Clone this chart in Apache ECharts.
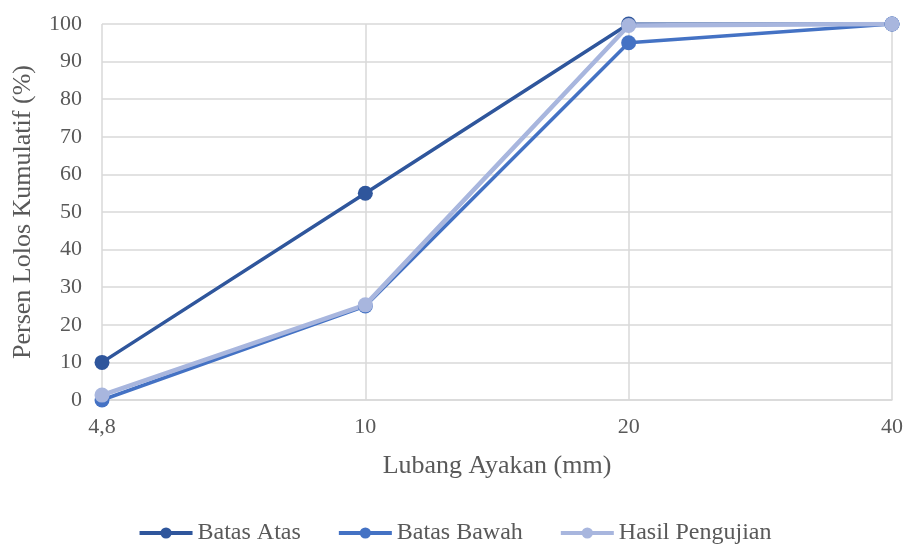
<!DOCTYPE html>
<html><head><meta charset="utf-8">
<script src="https://cdn.jsdelivr.net/npm/echarts@6/dist/echarts.min.js"></script>
<style>html,body{margin:0;padding:0;background:#fff}#c{width:909px;height:546px}</style>
</head><body><div id="c"></div>
<script>
const categories = ['4,8', '10', '20', '40'];
const batasAtas = [10, 55, 100, 100];
const batasBawah = [0, 25, 95, 100];
const hasilPengujian = [1.3, 25.3, 99.6, 100];
const yTicks = {min: 0, max: 100, interval: 10};

const font = 'Liberation Serif';
const chart = echarts.init(document.getElementById('c'));
chart.setOption({
  animation: false,
  grid: {left: 102, right: 17, top: 24, bottom: 146},
  legend: {
    top: 516, left: 'center', itemWidth: 53, itemHeight: 14, itemGap: 36,
    lineStyle: {width: 4},
    textStyle: {fontFamily: font, fontSize: 24, color: '#595959'},
    data: ['Batas Atas', 'Batas Bawah', 'Hasil Pengujian']
  },
  xAxis: {
    type: 'category', data: categories, boundaryGap: false,
    name: 'Lubang Ayakan (mm)', nameLocation: 'middle', nameGap: 53,
    nameTextStyle: {fontFamily: font, fontSize: 26, color: '#595959'},
    axisLine: {lineStyle: {color: '#d9d9d9', width: 1.5}},
    axisTick: {show: false},
    axisLabel: {fontFamily: font, fontSize: 22, color: '#595959', margin: 16},
    splitLine: {show: true, lineStyle: {color: '#d9d9d9', width: 1.5}}
  },
  yAxis: {
    type: 'value', min: yTicks.min, max: yTicks.max, interval: yTicks.interval,
    name: 'Persen Lolos Kumulatif (%)', nameLocation: 'middle', nameGap: 66,
    nameTextStyle: {fontFamily: font, fontSize: 26, color: '#595959'},
    axisLine: {show: false}, axisTick: {show: false},
    axisLabel: {fontFamily: font, fontSize: 22, color: '#595959', margin: 20},
    splitLine: {lineStyle: {color: '#d9d9d9', width: 1.5}}
  },
  series: [
    {name: 'Batas Atas', type: 'line', data: batasAtas, symbol: 'circle', symbolSize: 15,
     lineStyle: {width: 3.5, color: '#2F569C'}, itemStyle: {color: '#2F569C'}},
    {name: 'Batas Bawah', type: 'line', data: batasBawah, symbol: 'circle', symbolSize: 15,
     lineStyle: {width: 3.5, color: '#4472C4'}, itemStyle: {color: '#4472C4'}},
    {name: 'Hasil Pengujian', type: 'line', data: hasilPengujian, symbol: 'circle', symbolSize: 15,
     lineStyle: {width: 4.5, color: '#A8B6DE'}, itemStyle: {color: '#A8B6DE'}}
  ]
});
</script></body></html>
